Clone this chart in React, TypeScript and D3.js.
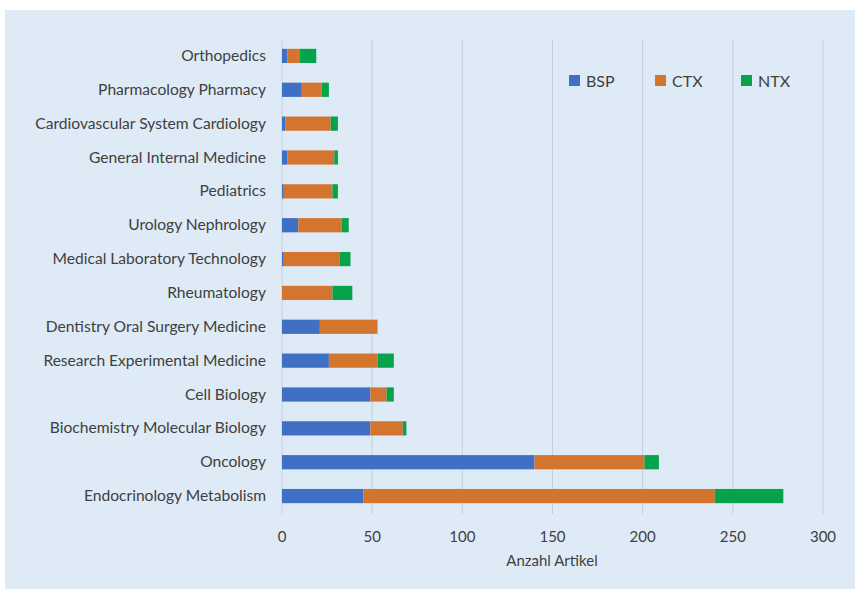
import React from "react";
import * as d3 from "d3";

const categories = [
  "Orthopedics",
  "Pharmacology Pharmacy",
  "Cardiovascular System Cardiology",
  "General Internal Medicine",
  "Pediatrics",
  "Urology Nephrology",
  "Medical Laboratory Technology",
  "Rheumatology",
  "Dentistry Oral Surgery Medicine",
  "Research Experimental Medicine",
  "Cell Biology",
  "Biochemistry Molecular Biology",
  "Oncology",
  "Endocrinology Metabolism",
];
const seriesNames = ["BSP", "CTX", "NTX"];
const bsp = [3, 11, 2, 3, 1, 9, 1, 0, 21, 26, 49, 49, 140, 45];
const ctx = [7, 11, 25, 26, 27, 24, 31, 28, 32, 27, 9, 18, 61, 195];
const ntx = [9, 4, 4, 2, 3, 4, 6, 11, 0, 9, 4, 2, 8, 38];
const xTicks = [0, 50, 100, 150, 200, 250, 300];
const colors = ["#4070c6", "#d4752f", "#06a34c"];

export default function App() {
  const W = 855, H = 590;
  const x = d3.scaleLinear().domain([0, 300]).range([282, 823]);
  const y = d3.scaleBand().domain(categories).range([39, 513]).paddingInner(0.58).paddingOuter(0.29);
  const rows = categories.map((c, i) => ({ cat: c, BSP: bsp[i], CTX: ctx[i], NTX: ntx[i] }));
  const stacked = d3.stack<any>().keys(seriesNames)(rows);
  const font = "Lato, 'Open Sans', sans-serif";
  const txt = "#404040";
  const legendX = [569, 655, 741];
  return (
    <svg width={W} height={H} style={{ position: "absolute", left: 0, top: 0 }} fontFamily={font}>
      <rect x={5} y={10} width={850} height={579} fill="#deebf7" />
      {xTicks.map((t) => (
        <line key={t} x1={x(t)} x2={x(t)} y1={40} y2={514} stroke="#c4cfdc" strokeWidth={1} />
      ))}
      {stacked.map((s, si) =>
        s.map((d, i) => (
          <rect
            key={si + "-" + i}
            x={x(d[0])}
            y={y(categories[i])!}
            width={Math.max(0, x(d[1]) - x(d[0]))}
            height={y.bandwidth()}
            fill={colors[si]}
          />
        ))
      )}
      {categories.map((c) => (
        <text key={c} x={266} y={y(c)! + y.bandwidth() / 2 - 1} textAnchor="end" dominantBaseline="central" fontSize={15.6} fill={txt}>
          {c}
        </text>
      ))}
      {xTicks.map((t) => (
        <text key={t} x={x(t)} y={536} textAnchor="middle" dominantBaseline="central" fontSize={15} fill={txt}>
          {t}
        </text>
      ))}
      <text x={552} y={560} textAnchor="middle" dominantBaseline="central" fontSize={15} fill={txt}>
        Anzahl Artikel
      </text>
      {seriesNames.map((n, i) => (
        <g key={n}>
          <rect x={legendX[i]} y={75} width={11} height={11} fill={colors[i]} />
          <text x={legendX[i] + 17} y={80} dominantBaseline="central" fontSize={16} fill={txt}>
            {n}
          </text>
        </g>
      ))}
    </svg>
  );
}
